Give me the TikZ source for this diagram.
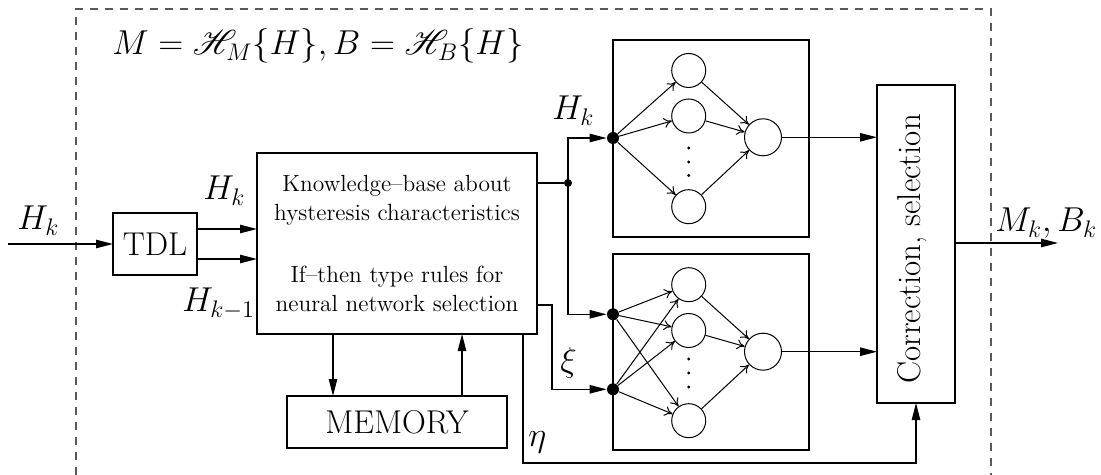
\documentclass[tikz,border=0pt]{standalone}
\usepackage{mathrsfs}
\usetikzlibrary{arrows.meta}
\newcommand\bigf{\fontsize{16.5}{19}\selectfont}
\newcommand\smallf{\fontsize{11.7}{14.5}\selectfont}
\begin{document}
\begin{tikzpicture}[x=0.5pt,y=-0.5pt,
  box/.style={draw, line width=1.3pt, inner sep=0pt, outer sep=0pt},
  thinline/.style={line width=0.65pt},
  arr/.style={thinline, -{Triangle[length=8.5pt,width=4.2pt]}},
  nnarr/.style={line width=0.5pt, -{To[length=4pt,width=5pt]}},
  neuron/.style={circle, draw, line width=0.5pt, inner sep=0pt, minimum size=17pt},
  outneuron/.style={circle, draw, line width=0.5pt, inner sep=0pt, minimum size=18.5pt},
  bigdot/.style={circle, fill, inner sep=0pt, minimum size=6pt},
  jdot/.style={circle, fill, inner sep=0pt, minimum size=4pt},
  sdot/.style={circle, fill, inner sep=0pt, minimum size=1.6pt},
  lbl/.style={inner sep=0pt, anchor=base west, font=\bigf},
  kbtext/.style={inner sep=0pt, anchor=base, font=\smallf},
]
\useasboundingbox (0,0) rectangle (1101,475);
% dashed frame
\draw[dashed, black!65, line width=0.6pt, dash pattern=on 4pt off 3.5pt] (76,475) -- (76,9) -- (991,9) -- (991,475);
% formula
\node[lbl] (formula) at (112,55) {$M=\mathscr{H}_M\{H\},B=\mathscr{H}_B\{H\}$};
% boxes
\node[box, minimum width=42pt, minimum height=31pt, font=\bigf] (tdl) at (155,244) {TDL};
\node[box, minimum width=140pt, minimum height=90.5pt] (kb) at (397,243.5) {};
\node[kbtext] (t1) at (397,191.5) {Knowledge--base about};
\node[kbtext] (t2) at (397,220.5) {hysteresis characteristics};
\node[kbtext] (t3) at (397,283) {If--then type rules for};
\node[kbtext] (t4) at (397,311.5) {neural network selection};
\node[box, minimum width=110pt, minimum height=26pt, font=\bigf] (mem) at (397,422) {MEMORY};
\node[box, minimum width=98pt, minimum height=98.5pt] (nn1) at (711,138.5) {};
\node[box, minimum width=98pt, minimum height=98pt] (nn2) at (711,352) {};
\node[box, minimum width=39pt, minimum height=159pt] (corr) at (916,244) {};
\node[rotate=90, font=\bigf, inner sep=0pt] (corrtext) at (912,249) {Correction, selection};
% network 1
\node[bigdot] (n1in) at (613,138) {};
\node[neuron] (n1h1) at (688.7,70.5) {};
\node[neuron] (n1h2) at (688.7,116) {};
\node[neuron] (n1h3) at (688.7,206.7) {};
\node[outneuron] (n1o) at (763,137.3) {};
\node[sdot] (n1d1) at (688.7,148) {};
\node[sdot] (n1d2) at (688.7,162) {};
\node[sdot] (n1d3) at (688.7,175.5) {};
\foreach \h in {n1h1,n1h2,n1h3} {
  \draw[nnarr] (n1in) -- (\h);
  \draw[nnarr] (\h) -- (n1o);
}
% network 2
\node[bigdot] (n2in1) at (613,314.3) {};
\node[bigdot] (n2in2) at (613,389.3) {};
\node[neuron] (n2h1) at (688.7,284.7) {};
\node[neuron] (n2h2) at (688.7,330.5) {};
\node[neuron] (n2h3) at (688.7,420.7) {};
\node[outneuron] (n2o) at (763,351.7) {};
\node[sdot] (n2d1) at (688.7,359) {};
\node[sdot] (n2d2) at (688.7,373) {};
\node[sdot] (n2d3) at (688.7,387) {};
\foreach \h in {n2h1,n2h2,n2h3} {
  \draw[nnarr] (n2in1) -- (\h);
  \draw[nnarr] (n2in2) -- (\h);
  \draw[nnarr] (\h) -- (n2o);
}
% input / TDL
\coordinate (in) at (8,244);
\draw[arr] (in) -- (tdl);
\draw[arr] (tdl.east |- 0,229) -- (kb.west |- 0,229);
\draw[arr] (tdl.east |- 0,259) -- (kb.west |- 0,259);
% memory
\draw[arr] (kb.south -| 333,0) -- (mem.north -| 333,0);
\draw[arr] (mem.north -| 462,0) -- (kb.south -| 462,0);
% junction to networks
\node[jdot] (jd) at (568,183) {};
\draw[thinline] (kb.east |- jd) -- (jd);
\draw[arr] (jd.center) |- (n1in);
\draw[arr] (jd.center) |- (n2in1);
% xi
\coordinate (xia) at (552,305);
\draw[arr] (kb.east |- xia) -- (xia) |- (n2in2);
% eta
\coordinate (etaa) at (523,463);
\draw[arr] (kb.south -| etaa) -- (etaa) -| (corr.south);
% network outputs
\draw[arr] (n1o) -- (n1o -| corr.west);
\draw[arr] (n2o) -- (n2o -| corr.west);
% output
\coordinate (out) at (1058,243);
\draw[arr] (corr.east |- out) -- (out);
% labels
\node[lbl] (lin) at (17,230) {$H_k$};
\node[lbl] (lhk) at (203,200) {$H_k$};
\node[lbl] (lhk1) at (182,312) {$H_{k-1}$};
\node[lbl] (lhkn) at (552,120) {$H_k$};
\node[lbl] (lxi) at (560,371) {$\xi$};
\node[lbl] (leta) at (528,446) {$\eta$};
\node[lbl] (lout) at (995,232) {$M_k,B_k$};
\end{tikzpicture}
\end{document}
